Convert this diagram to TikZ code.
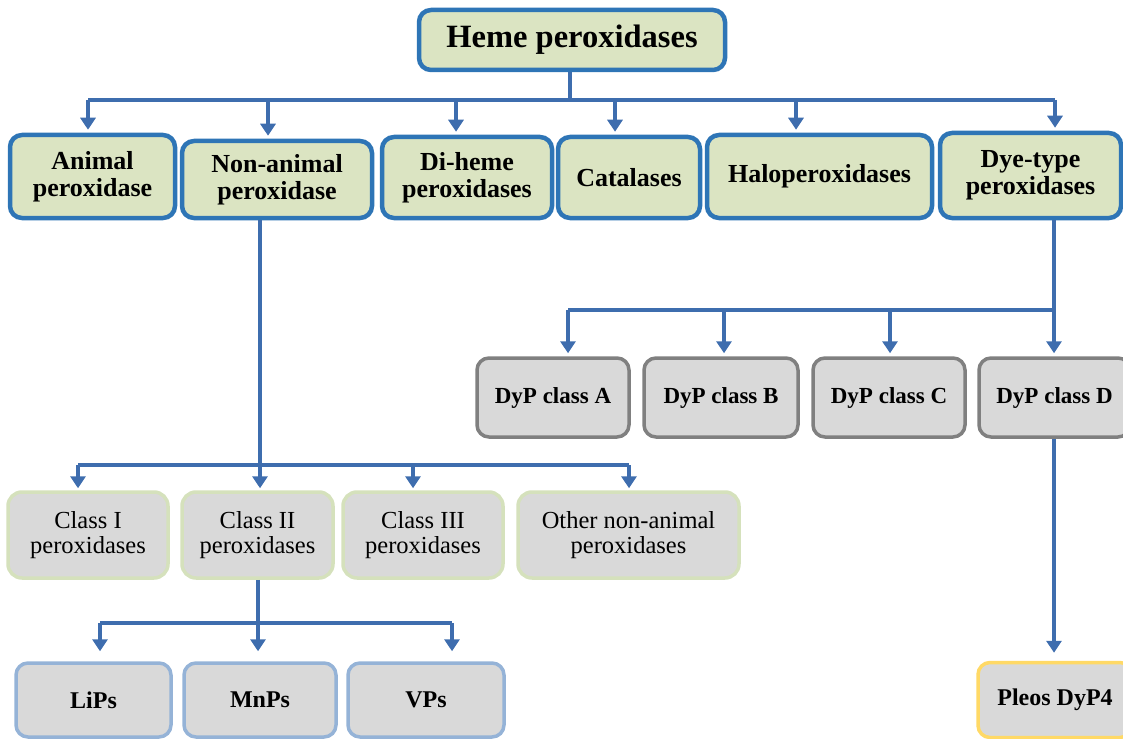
\documentclass[tikz,border=0pt]{standalone}
\usepackage{fontspec}
\setmainfont{Liberation Serif}
\usetikzlibrary{arrows.meta}
\definecolor{arrblue}{HTML}{3E6DAE}
\definecolor{topborder}{HTML}{2E75B6}
\definecolor{topfill}{HTML}{DBE4C2}
\definecolor{boxgray}{HTML}{D9D9D9}
\definecolor{greenborder}{HTML}{D5E1BC}
\definecolor{grayborder}{HTML}{808080}
\definecolor{blueborder}{HTML}{95B3D7}
\definecolor{goldborder}{HTML}{FFD966}
\tikzset{
  topbox/.style={draw=topborder, line width=4.5pt, fill=topfill, rounded corners=12pt,
    inner sep=0pt, align=center, font=\bfseries\fontsize{26}{27}\selectfont},
  classbox/.style={draw=greenborder, line width=3.5pt, fill=boxgray, rounded corners=14pt,
    inner sep=0pt, align=center, font=\fontsize{24.5}{25}\selectfont},
  dypbox/.style={draw=grayborder, line width=3.5pt, fill=boxgray, rounded corners=12pt,
    inner sep=0pt, align=center, font=\bfseries\fontsize{23}{25}\selectfont},
  enzbox/.style={draw=blueborder, line width=3.5pt, fill=boxgray, rounded corners=12pt,
    inner sep=0pt, align=center, font=\bfseries\fontsize{24}{25}\selectfont},
  pleosbox/.style={draw=goldborder, line width=3.5pt, fill=boxgray, rounded corners=12pt,
    inner sep=0pt, align=center, font=\bfseries\fontsize{24}{25}\selectfont},
  conn/.style={draw=arrblue, line width=4pt},
  arr/.style={conn, -{Triangle[width=15pt,length=12pt]}},
}
\begin{document}
\begin{tikzpicture}[x=1pt,y=-1pt]
\useasboundingbox (0,0) rectangle (1123,738);
% top
\node[topbox, minimum width=306pt, minimum height=60pt, font=\bfseries\fontsize{32.5}{34}\selectfont] (heme) at (572,40) {Heme peroxidases};
% row 1
\node[topbox, minimum width=165pt, minimum height=83pt] (anim) at (92.5,176.5) {Animal\\peroxidase};
\node[topbox, minimum width=190pt, minimum height=77pt] (nonan) at (277,179.5) {Non-animal\\peroxidase};
\node[topbox, minimum width=170pt, minimum height=81pt] (dihem) at (467,177.5) {Di-heme\\peroxidases};
\node[topbox, minimum width=142pt, minimum height=81pt] (catal) at (629,177.5) {Catalases};
\node[topbox, minimum width=225pt, minimum height=83pt] (halo) at (819.5,176.5) {Haloperoxidases};
\node[topbox, minimum width=181pt, minimum height=85pt] (dye) at (1030.5,175.5) {Dye-type\\peroxidases};
% top connectors
\coordinate (tb) at (570,100);
\coordinate (t1) at (88,100);
\coordinate (t2) at (268,100);
\coordinate (t3) at (456,100);
\coordinate (t4) at (615,100);
\coordinate (t5) at (796,100);
\coordinate (t6) at (1055,100);
\draw[conn] (heme.south -| tb) -- (tb);
\draw[conn] (t1) -- (t6);
\draw[arr] (t1) -- ([yshift=3pt]t1 |- anim.north);
\draw[arr] (t2) -- ([yshift=3pt]t2 |- nonan.north);
\draw[arr] (t3) -- ([yshift=3pt]t3 |- dihem.north);
\draw[arr] (t4) -- ([yshift=3pt]t4 |- catal.north);
\draw[arr] (t5) -- ([yshift=3pt]t5 |- halo.north);
\draw[arr] (t6) -- ([yshift=3pt]t6 |- dye.north);
% DyP row
\node[dypbox, minimum width=152pt, minimum height=79pt] (dypa) at (553,397.5) {DyP class A};
\node[dypbox, minimum width=154pt, minimum height=79pt] (dypb) at (721,397.5) {DyP class B};
\node[dypbox, minimum width=152pt, minimum height=79pt] (dypc) at (889,397.5) {DyP class C};
\node[dypbox, minimum width=151pt, minimum height=79pt] (dypd) at (1054.5,397.5) {DyP class D};
\coordinate (dv) at (1054,310);
\coordinate (d1) at (568,310);
\coordinate (d2) at (724,310);
\coordinate (d3) at (890,310);
\draw[conn] (dye.south -| dv) -- (dv);
\draw[conn] (d1) -- (dv);
\draw[arr] (d1) -- ([yshift=3pt]d1 |- dypa.north);
\draw[arr] (d2) -- ([yshift=3pt]d2 |- dypb.north);
\draw[arr] (d3) -- ([yshift=3pt]d3 |- dypc.north);
\draw[arr] (dv) -- ([yshift=3pt]dv |- dypd.north);
% Pleos
\node[pleosbox, minimum width=154pt, minimum height=75pt] (pleos) at (1055,700) {Pleos DyP4};
\draw[arr] (dypd.south -| dv) -- ([yshift=8pt]dv |- pleos.north);
% class row
\node[classbox, minimum width=160pt, minimum height=86pt] (cl1) at (88,535) {Class I\\peroxidases};
\node[classbox, minimum width=151pt, minimum height=86pt] (cl2) at (257.5,535) {Class II\\peroxidases};
\node[classbox, minimum width=160pt, minimum height=86pt] (cl3) at (423,535) {Class III\\peroxidases};
\node[classbox, minimum width=221pt, minimum height=86pt] (cl4) at (628.5,535) {Other non-animal\\peroxidases};
\coordinate (nv) at (260,465);
\coordinate (c1) at (78,465);
\coordinate (c3) at (413,465);
\coordinate (c4) at (629,465);
\draw[conn] (nonan.south -| nv) -- (nv);
\draw[conn] (c1) -- (c4);
\draw[arr] (c1) -- ([yshift=2pt]c1 |- cl1.north);
\draw[arr] (nv) -- ([yshift=2pt]nv |- cl2.north);
\draw[arr] (c3) -- ([yshift=2pt]c3 |- cl3.north);
\draw[arr] (c4) -- ([yshift=2pt]c4 |- cl4.north);
% enzyme row
\node[enzbox, minimum width=155pt, minimum height=74pt] (lips) at (93.5,700) {LiPs};
\node[enzbox, minimum width=152pt, minimum height=74pt] (mnps) at (260,700) {MnPs};
\node[enzbox, minimum width=156pt, minimum height=74pt] (vps) at (426,700) {VPs};
\coordinate (ev) at (258,623);
\coordinate (e1) at (100,623);
\coordinate (e3) at (452,623);
\draw[conn] (cl2.south -| ev) -- (ev);
\draw[conn] (e1) -- (e3);
\draw[arr] (e1) -- ([yshift=10pt]e1 |- lips.north);
\draw[arr] (ev) -- ([yshift=10pt]ev |- mnps.north);
\draw[arr] (e3) -- ([yshift=10pt]e3 |- vps.north);
\end{tikzpicture}
\end{document}
